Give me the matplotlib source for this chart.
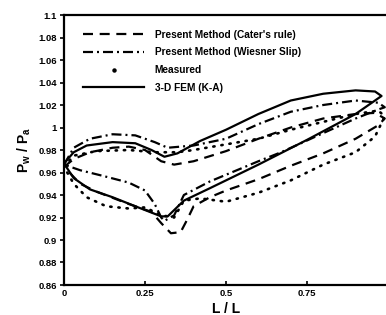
import matplotlib
matplotlib.use("Agg")
import matplotlib.pyplot as plt
from matplotlib.lines import Line2D

plt.rcParams['font.family'] = ['Liberation Sans', 'DejaVu Sans']
plt.rcParams['font.weight'] = 'bold'
plt.rcParams['mathtext.fontset'] = 'custom'
plt.rcParams['mathtext.rm'] = 'Liberation Sans:bold'
plt.rcParams['mathtext.bf'] = 'Liberation Sans:bold'
plt.rcParams['mathtext.it'] = 'Liberation Sans:bold'

# ---- data: each series is a closed loop (upper branch, lower branch) ----
labels = ["Present Method (Cater's rule)", "Present Method (Wiesner Slip)",
          "Measured", "3-D FEM (K-A)"]

cater_up_x = [0, 0.03, 0.08, 0.15, 0.2, 0.25, 0.3, 0.34, 0.4, 0.5, 0.6, 0.7, 0.8, 0.9, 0.96, 0.99]
cater_up_y = [0.965, 0.972, 0.978, 0.982, 0.983, 0.980, 0.970, 0.967, 0.970, 0.979, 0.990, 1.000, 1.008, 1.012, 1.013, 1.008]
cater_lo_x = [0, 0.05, 0.1, 0.2, 0.27, 0.3, 0.33, 0.36, 0.38, 0.4, 0.45, 0.5, 0.6, 0.7, 0.8, 0.9, 0.97, 0.99]
cater_lo_y = [0.965, 0.950, 0.943, 0.932, 0.925, 0.915, 0.906, 0.907, 0.918, 0.930, 0.938, 0.944, 0.954, 0.966, 0.977, 0.990, 1.002, 1.008]

wies_up_x = [0, 0.03, 0.08, 0.15, 0.22, 0.28, 0.32, 0.4, 0.5, 0.6, 0.7, 0.8, 0.9, 0.97, 0.99]
wies_up_y = [0.967, 0.982, 0.990, 0.994, 0.993, 0.987, 0.982, 0.984, 0.990, 1.003, 1.014, 1.020, 1.024, 1.022, 1.018]
wies_lo_x = [0, 0.05, 0.12, 0.2, 0.25, 0.28, 0.3, 0.31, 0.34, 0.37, 0.45, 0.5, 0.6, 0.67, 0.8, 0.9, 0.97, 0.99]
wies_lo_y = [0.967, 0.962, 0.957, 0.951, 0.944, 0.932, 0.920, 0.917, 0.922, 0.940, 0.952, 0.958, 0.970, 0.978, 0.995, 1.008, 1.016, 1.018]

meas_up_x = [0, 0.03, 0.1, 0.2, 0.28, 0.35, 0.4, 0.5, 0.6, 0.7, 0.8, 0.9, 0.97, 0.99]
meas_up_y = [0.965, 0.975, 0.979, 0.980, 0.978, 0.978, 0.980, 0.985, 0.990, 0.998, 1.005, 1.012, 1.015, 1.010]
meas_lo_x = [0, 0.03, 0.07, 0.13, 0.2, 0.25, 0.3, 0.34, 0.37, 0.42, 0.5, 0.6, 0.7, 0.8, 0.9, 0.96, 0.99]
meas_lo_y = [0.965, 0.950, 0.938, 0.930, 0.928, 0.929, 0.922, 0.920, 0.935, 0.937, 0.934, 0.942, 0.953, 0.967, 0.978, 0.992, 1.010]

fem_up_x = [0, 0.03, 0.07, 0.15, 0.22, 0.27, 0.31, 0.35, 0.42, 0.5, 0.6, 0.7, 0.8, 0.9, 0.96, 0.98]
fem_up_y = [0.968, 0.978, 0.984, 0.987, 0.986, 0.980, 0.974, 0.977, 0.988, 0.998, 1.012, 1.024, 1.030, 1.033, 1.032, 1.028]
fem_lo_x = [0, 0.03, 0.08, 0.15, 0.22, 0.3, 0.32, 0.37, 0.45, 0.5, 0.6, 0.75, 0.9, 0.98]
fem_lo_y = [0.968, 0.955, 0.945, 0.938, 0.930, 0.921, 0.921, 0.935, 0.946, 0.953, 0.967, 0.989, 1.012, 1.028]

xticks = [0, 0.25, 0.5, 0.75, 1]
xticklabels = ['0', '0.25', '0.5', '0.75', '1']
yticks = [0.86, 0.88, 0.9, 0.92, 0.94, 0.96, 0.98, 1.0, 1.02, 1.04, 1.06, 1.08, 1.1]
yticklabels = ['0.86', '0.88', '0.9', '0.92', '0.94', '0.96', '0.98', '1', '1.02', '1.04', '1.06', '1.08', '1.1']


def loop(ux, uy, lx, ly):
    return list(ux) + list(reversed(lx)), list(uy) + list(reversed(ly))


fig = plt.figure(figsize=(3.86, 3.15), dpi=100)
ax = fig.add_axes([64 / 386, 30 / 315, 324 / 386, 270 / 315])

lw = 1.6
dash_c = (4.5, 3)
dash_w = (4.5, 1.8, 0.9, 1.8)
x, y = loop(cater_up_x, cater_up_y, cater_lo_x, cater_lo_y)
ax.plot(x, y, color='black', lw=lw, dashes=dash_c)
x, y = loop(wies_up_x, wies_up_y, wies_lo_x, wies_lo_y)
ax.plot(x, y, color='black', lw=lw, dashes=dash_w)
x, y = loop(meas_up_x, meas_up_y, meas_lo_x, meas_lo_y)
ax.plot(x, y, color='black', lw=1.9, dashes=(0.5, 2.6), dash_capstyle='round')
x, y = loop(fem_up_x, fem_up_y, fem_lo_x, fem_lo_y)
ax.plot(x, y, color='black', lw=lw, solid_joinstyle='round')

ax.set_xlim(0, 1)
ax.set_ylim(0.86, 1.1)
ax.set_xticks(xticks)
ax.set_xticklabels(xticklabels, fontsize=6.8, fontweight='bold')
ax.set_yticks(yticks)
ax.set_yticklabels(yticklabels, fontsize=6.8, fontweight='bold')
ax.tick_params(axis='x', direction='in', length=3, width=1.2, pad=3)
ax.tick_params(axis='y', direction='out', length=3, width=1.2, pad=2)
for s in ax.spines.values():
    s.set_linewidth(1.6)

ax.set_xlabel('L / L', fontsize=10, fontweight='bold', labelpad=3)
ax.set_ylabel(r'$\mathrm{P_w\ /\ P_a}$', fontsize=10, labelpad=4)

handles = [
    Line2D([], [], color='black', lw=lw, dashes=dash_c),
    Line2D([], [], color='black', lw=lw, dashes=dash_w),
    Line2D([], [], ls='none', marker='o', ms=2.2, color='black'),
    Line2D([], [], color='black', lw=lw),
]
ax.legend(handles, labels, loc='upper left', bbox_to_anchor=(0.045, 0.96),
          frameon=False, fontsize=7.3, handlelength=6.1, handletextpad=1.0,
          labelspacing=0.75, numpoints=1, borderaxespad=0)

fig.savefig('out.png', dpi=100)
